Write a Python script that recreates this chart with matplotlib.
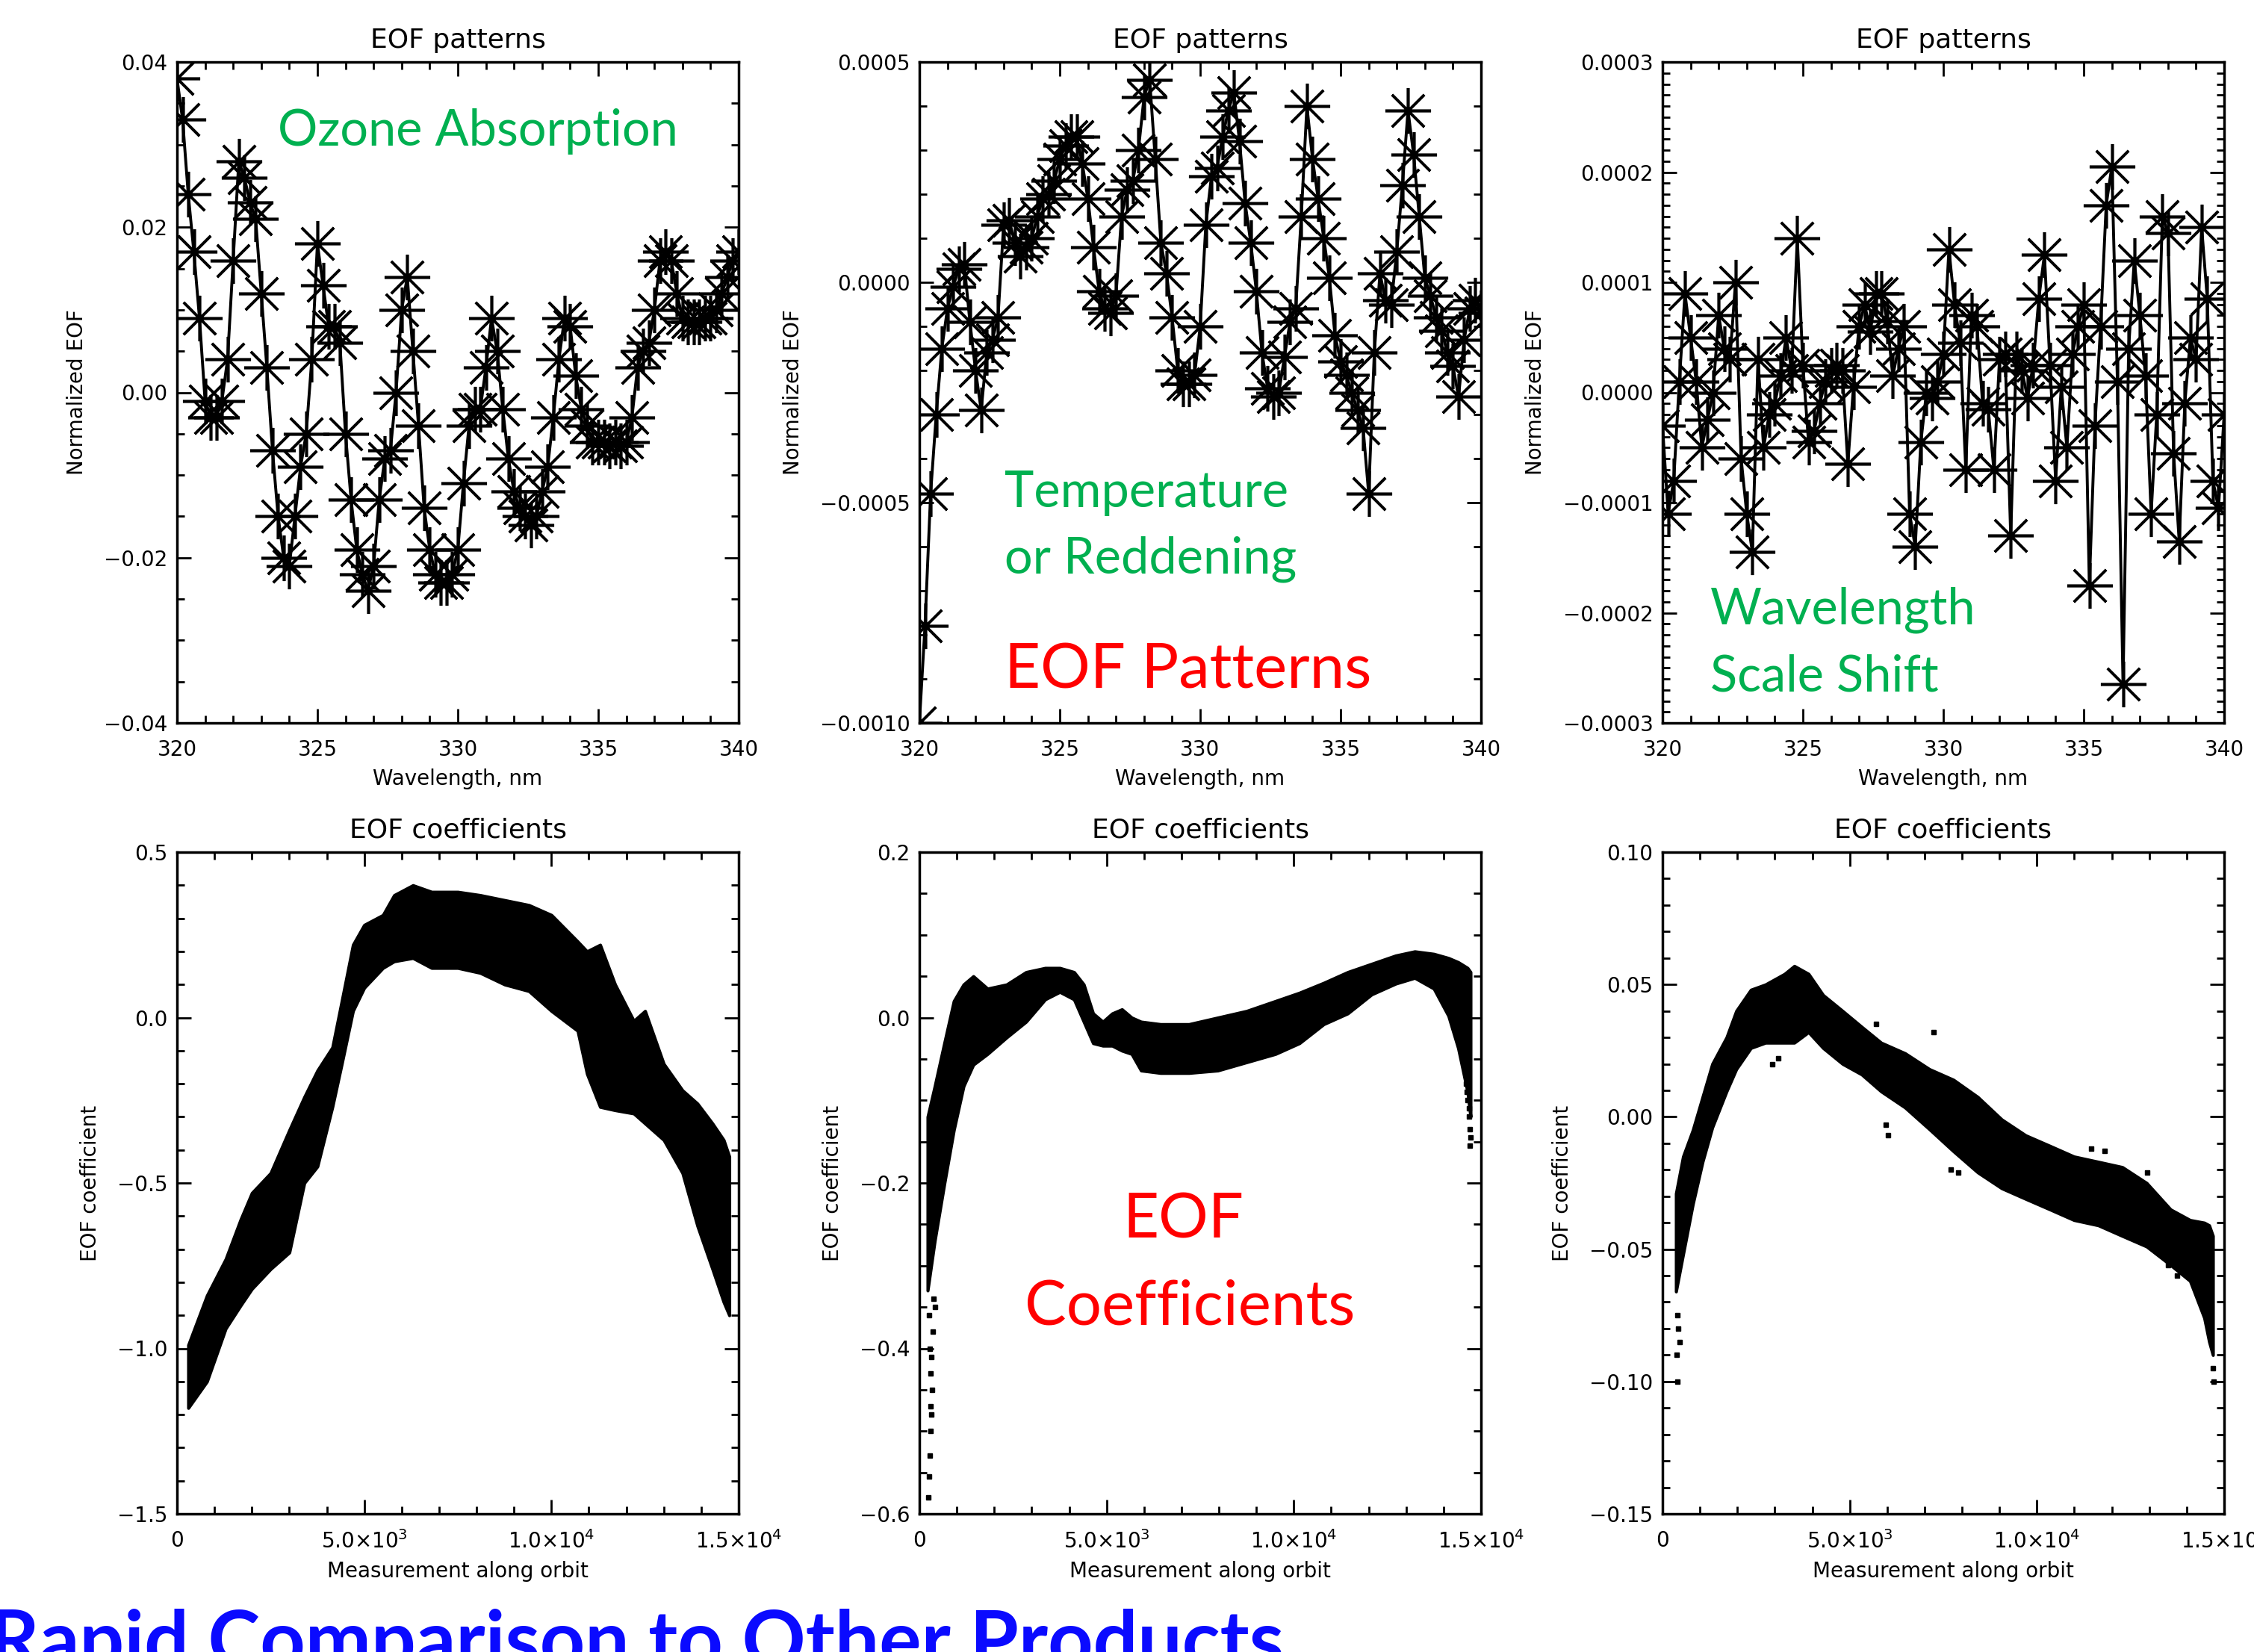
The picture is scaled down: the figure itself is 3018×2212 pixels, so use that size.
import numpy as np
import matplotlib
matplotlib.use('Agg')
import matplotlib.pyplot as plt
from matplotlib.ticker import FixedLocator, MultipleLocator, FuncFormatter

# --- EOF patterns (top row), sampled every 0.2 nm ---
wavelength = np.round(np.arange(320.0, 340.01, 0.2), 1)

eof_ozone = [0.038, 0.033, 0.024, 0.017, 0.009, -0.001, -0.003, -0.003, -0.001, 0.004,
             0.016, 0.028, 0.026, 0.023, 0.021, 0.012, 0.003, -0.007, -0.015, -0.020,
             -0.021, -0.015, -0.009, -0.005, 0.004, 0.018, 0.013, 0.008, 0.008, 0.006,
             -0.005, -0.013, -0.019, -0.022, -0.024, -0.021, -0.013, -0.008, -0.007, 0.000,
             0.010, 0.014, 0.005, -0.004, -0.014, -0.019, -0.022, -0.023, -0.023, -0.022,
             -0.019, -0.011, -0.004, -0.002, -0.002, 0.003, 0.009, 0.005, -0.002, -0.008,
             -0.012, -0.014, -0.015, -0.016, -0.015, -0.012, -0.009, -0.003, 0.004, 0.009,
             0.008, 0.002, -0.002, -0.004, -0.006, -0.006, -0.006, -0.0065, -0.006, -0.0065,
             -0.006, -0.003, 0.003, 0.005, 0.006, 0.010, 0.016, 0.017, 0.016, 0.012,
             0.009, 0.0085, 0.0085, 0.0085, 0.009, 0.009, 0.010, 0.012, 0.014, 0.016,
             0.017]

# units of 1e-4
eof_temp = [-10.0, -7.8, -4.8, -3.0, -1.5, -0.6, -0.1, 0.3, 0.4, -0.9,
            -2.0, -2.9, -1.6, -1.3, -0.8, 1.3, 1.4, 0.9, 0.6, 0.8,
            1.0, 1.5, 1.9, 2.0, 2.3, 2.8, 3.1, 3.3, 3.3, 2.7,
            1.9, 0.8, -0.2, -0.6, -0.7, -0.3, 1.5, 2.1, 2.3, 3.0,
            4.2, 4.6, 2.8, 0.9, 0.2, -0.8, -2.0, -2.3, -2.3, -2.1,
            -1.0, 1.3, 2.4, 2.6, 3.3, 3.9, 4.3, 3.2, 1.8, 0.9,
            -0.2, -1.6, -2.4, -2.6, -2.5, -1.7, -0.9, -0.6, 1.5, 4.0,
            2.8, 1.9, 1.0, 0.1, -1.2, -1.8, -2.1, -2.5, -2.9, -3.3,
            -4.8, -1.6, 0.2, -0.4, -0.5, 0.7, 2.2, 3.9, 2.9, 1.5,
            0.1, -0.3, -0.8, -1.1, -1.6, -1.9, -2.6, -1.3, -0.6, -0.4,
            -0.7]

# units of 1e-4
eof_shift = [-0.3, -1.1, -0.8, 0.1, 0.9, 0.5, 0.1, -0.5, -0.25, 0.0,
             0.7, 0.4, 0.3, 1.0, -0.6, -1.1, -1.45, 0.3, -0.5, -0.2,
             -0.1, 0.15, 0.5, 0.2, 1.4, 0.25, -0.45, -0.35, -0.1, 0.1,
             0.2, 0.25, 0.2, -0.65, 0.05, 0.6, 0.8, 0.55, 0.9, 0.9,
             0.65, 0.15, 0.4, 0.6, -1.1, -1.4, -0.45, 0.0, -0.05, 0.1,
             0.35, 1.3, 0.8, 0.45, -0.7, 0.7, 0.6, -0.1, -0.15, -0.7,
             0.3, 0.35, -1.3, 0.35, 0.2, -0.05, 0.25, 0.85, 1.25, 0.25,
             -0.8, 0.05, -0.5, 0.35, 0.6, 0.8, -1.75, -0.3, 0.6, 1.7,
             2.05, 0.1, -2.65, 0.4, 1.2, 0.7, 0.15, -1.1, -0.2, 1.6,
             1.45, -0.55, -1.35, -0.1, 0.5, 0.3, 1.5, 0.85, -0.8, -1.05,
             -0.2]

# --- EOF coefficients (bottom row): envelope of the dense point cloud ---
orbit1 = [300, 800, 1300, 1700, 2000, 2500, 3000, 3400, 3750, 4150, 4400, 4700, 5000,
          5500, 5800, 6300, 6800, 7500, 8100, 8750, 9400, 10000, 10700, 10950, 11300,
          11700, 12200, 12500, 13000, 13500, 13900, 14300, 14600, 14750]
coef1_hi = [-0.99, -0.84, -0.73, -0.61, -0.53, -0.47, -0.34, -0.24, -0.16, -0.09, 0.05,
            0.22, 0.28, 0.31, 0.37, 0.40, 0.38, 0.38, 0.37, 0.355, 0.34, 0.31, 0.23,
            0.20, 0.22, 0.10, -0.01, 0.02, -0.14, -0.22, -0.26, -0.32, -0.37, -0.42]
coef1_lo = [-1.18, -1.10, -0.94, -0.87, -0.82, -0.76, -0.71, -0.50, -0.45, -0.27, -0.14,
            0.02, 0.09, 0.15, 0.17, 0.18, 0.15, 0.15, 0.135, 0.10, 0.08, 0.02, -0.04,
            -0.17, -0.27, -0.28, -0.29, -0.32, -0.37, -0.47, -0.63, -0.76, -0.86, -0.90]

orbit2 = [220, 410, 670, 920, 1180, 1440, 1820, 2330, 2850, 3360, 3750, 4130, 4390, 4640,
          4900, 5150, 5410, 5670, 5920, 6440, 7200, 7970, 8740, 9510, 10150, 10800, 11440,
          12080, 12720, 13230, 13740, 14130, 14390, 14640, 14720]
coef2_hi = [-0.12, -0.083, -0.03, 0.02, 0.04, 0.05, 0.035, 0.04, 0.055, 0.06, 0.06, 0.055,
            0.04, 0.005, -0.005, 0.005, 0.01, 0.0, -0.005, -0.008, -0.008, 0.0, 0.008,
            0.02, 0.03, 0.042, 0.055, 0.065, 0.075, 0.08, 0.077, 0.072, 0.067, 0.06, 0.055]
coef2_lo = [-0.33, -0.27, -0.20, -0.136, -0.083, -0.057, -0.044, -0.024, -0.005, 0.022,
            0.031, 0.022, -0.005, -0.031, -0.034, -0.034, -0.04, -0.044, -0.064, -0.067,
            -0.067, -0.064, -0.054, -0.044, -0.031, -0.008, 0.005, 0.028, 0.041, 0.048,
            0.035, 0.002, -0.037, -0.09, -0.12]
tail2_x = [250, 280, 300, 330, 310, 290, 270, 260, 240, 350, 420, 380, 320, 300,
           14550, 14600, 14620, 14650, 14680, 14700, 14720, 14710, 14690, 14600]
tail2_y = [-0.36, -0.40, -0.43, -0.45, -0.48, -0.50, -0.53, -0.555, -0.58, -0.38, -0.35,
           -0.34, -0.41, -0.47, -0.05, -0.07, -0.09, -0.10, -0.12, -0.135, -0.145, -0.155,
           -0.11, -0.08]

orbit3 = [360, 550, 810, 1070, 1330, 1710, 1970, 2360, 2750, 3260, 3520, 3900, 4290, 4810,
          5320, 5840, 6480, 7130, 7770, 8420, 9060, 9700, 10350, 10990, 11640, 12280, 12930,
          13570, 14090, 14470, 14600, 14700]
coef3_hi = [-0.029, -0.015, -0.005, 0.0075, 0.02, 0.03, 0.04, 0.048, 0.05, 0.054, 0.057,
            0.054, 0.046, 0.04, 0.034, 0.028, 0.024, 0.018, 0.014, 0.0075, -0.001, -0.007,
            -0.011, -0.015, -0.017, -0.019, -0.025, -0.035, -0.039, -0.040, -0.041, -0.045]
coef3_lo = [-0.066, -0.052, -0.033, -0.017, -0.004, 0.0096, 0.018, 0.026, 0.028, 0.028,
            0.028, 0.032, 0.026, 0.02, 0.016, 0.0096, 0.0035, -0.0047, -0.013, -0.021,
            -0.027, -0.031, -0.035, -0.039, -0.041, -0.045, -0.049, -0.056, -0.062, -0.076,
            -0.085, -0.09]
tail3_x = [5700, 7250, 5970, 6030, 2930, 3100, 12950, 11800, 11450, 8300, 7700, 7900,
           13500, 13750, 400, 420, 450, 380, 390, 14700, 14720]
tail3_y = [0.035, 0.032, -0.003, -0.007, 0.020, 0.022, -0.021, -0.013, -0.012, 0.0,
           -0.020, -0.021, -0.056, -0.060, -0.075, -0.080, -0.085, -0.090, -0.100,
           -0.095, -0.100]

W, H = 3018, 2212
fig = plt.figure(figsize=(W / 100, H / 100), dpi=100)


def box(x0, y0, x1, y1):
    # pixel box (top-left origin) -> figure fraction rect
    return [x0 / W, 1 - y1 / H, (x1 - x0) / W, (y1 - y0) / H]


def fig_xy(x, y):
    return x / W, 1 - y / H


def style(ax, xmaj, xmin, ymaj, ymin, yfmt, xlabels=None):
    ax.xaxis.set_major_locator(FixedLocator(xmaj))
    ax.xaxis.set_minor_locator(MultipleLocator(xmin))
    ax.yaxis.set_major_locator(FixedLocator(ymaj))
    ax.yaxis.set_minor_locator(MultipleLocator(ymin))
    if xlabels is not None:
        ax.set_xticklabels(xlabels)
    else:
        ax.xaxis.set_major_formatter(FuncFormatter(lambda v, p: '%d' % round(v)))
    ax.yaxis.set_major_formatter(FuncFormatter(lambda v, p: (yfmt % v).replace('-', '\u2212')))
    ax.tick_params(which='both', direction='in', top=True, right=True, width=2, colors='black')
    ax.tick_params(which='major', length=14, labelsize=20)
    ax.tick_params(which='minor', length=7)
    ax.tick_params(axis='x', which='major', pad=16)
    ax.tick_params(axis='y', which='major', pad=9)
    for s in ax.spines.values():
        s.set_linewidth(2.5)


lefts = [237, 1231, 2226]
aw = 752
top_y0, top_y1 = 83, 968
bot_y0, bot_y1 = 1141, 2027

marker = dict(color='black', lw=2.8, marker=(8, 2, 0), ms=44, mew=2.6)

top_series = [np.array(eof_ozone), np.array(eof_temp) * 1e-4, np.array(eof_shift) * 1e-4]
top_ylim = [(-0.04, 0.04), (-0.0010, 0.0005), (-0.0003, 0.0003)]
top_ymaj = [[-0.04, -0.02, 0.0, 0.02, 0.04],
            [-0.0010, -0.0005, 0.0, 0.0005],
            [-0.0003, -0.0002, -0.0001, 0.0, 0.0001, 0.0002, 0.0003]]
top_ymin = [0.005, 0.0001, 0.00001]
top_fmt = ['%.2f', '%.4f', '%.4f']

for i in range(3):
    ax = fig.add_axes(box(lefts[i], top_y0, lefts[i] + aw, top_y1))
    ax.plot(wavelength, top_series[i], **marker)
    ax.set_xlim(320, 340)
    ax.set_ylim(*top_ylim[i])
    style(ax, [320, 325, 330, 335, 340], 1, top_ymaj[i], top_ymin[i], top_fmt[i])
    ax.set_title('EOF patterns', fontsize=26, pad=14)
    ax.set_xlabel('Wavelength, nm', fontsize=20, labelpad=8)
    ax.set_ylabel('Normalized EOF', fontsize=20, labelpad=16)

orbit_labels = ['0', r'5.0$\times$10$^3$', r'1.0$\times$10$^4$', r'1.5$\times$10$^4$']
bands = [(orbit1, coef1_lo, coef1_hi, None, None),
         (orbit2, coef2_lo, coef2_hi, tail2_x, tail2_y),
         (orbit3, coef3_lo, coef3_hi, tail3_x, tail3_y)]
bot_ylim = [(-1.5, 0.5), (-0.6, 0.2), (-0.15, 0.10)]
bot_ymaj = [[-1.5, -1.0, -0.5, 0.0, 0.5],
            [-0.6, -0.4, -0.2, 0.0, 0.2],
            [-0.15, -0.10, -0.05, 0.0, 0.05, 0.10]]
bot_ymin = [0.1, 0.05, 0.01]
bot_fmt = ['%.1f', '%.1f', '%.2f']

for i in range(3):
    ax = fig.add_axes(box(lefts[i], bot_y0, lefts[i] + aw, bot_y1))
    xs, lo, hi, tx, ty = bands[i]
    ax.fill_between(xs, lo, hi, color='black', lw=3)
    if tx is not None:
        ax.plot(tx, ty, ls='none', marker='s', ms=4, color='black')
    ax.set_xlim(0, 15000)
    ax.set_ylim(*bot_ylim[i])
    style(ax, [0, 5000, 10000, 15000], 1000, bot_ymaj[i], bot_ymin[i], bot_fmt[i],
          xlabels=orbit_labels)
    ax.set_title('EOF coefficients', fontsize=26, pad=14)
    ax.set_xlabel('Measurement along orbit', fontsize=20, labelpad=8)
    ax.set_ylabel('EOF coefficient', fontsize=20, labelpad=16)

green = '#00B050'
red = '#FF0000'
note = dict(family='Lato', ha='left', va='baseline')
fig.text(*fig_xy(372, 195), 'Ozone Absorption', color=green, fontsize=48, **note)
fig.text(*fig_xy(1345, 679), 'Temperature', color=green, fontsize=48, **note)
fig.text(*fig_xy(1345, 768), 'or Reddening', color=green, fontsize=48, **note)
fig.text(*fig_xy(1345, 921), 'EOF Patterns', color=red, fontsize=60, **note)
fig.text(*fig_xy(2290, 836), 'Wavelength', color=green, fontsize=48, **note)
fig.text(*fig_xy(2290, 925), 'Scale Shift', color=green, fontsize=48, **note)
fig.text(*fig_xy(1503, 1658), 'EOF', color=red, fontsize=60, **note)
fig.text(*fig_xy(1372, 1773), 'Coefficients', color=red, fontsize=60, **note)
fig.text(*fig_xy(-15, 2232), 'Rapid Comparison to Other Products', color='#0a0aff',
         fontsize=76, fontweight='bold', **note)

fig.savefig('out.png', dpi=100)
